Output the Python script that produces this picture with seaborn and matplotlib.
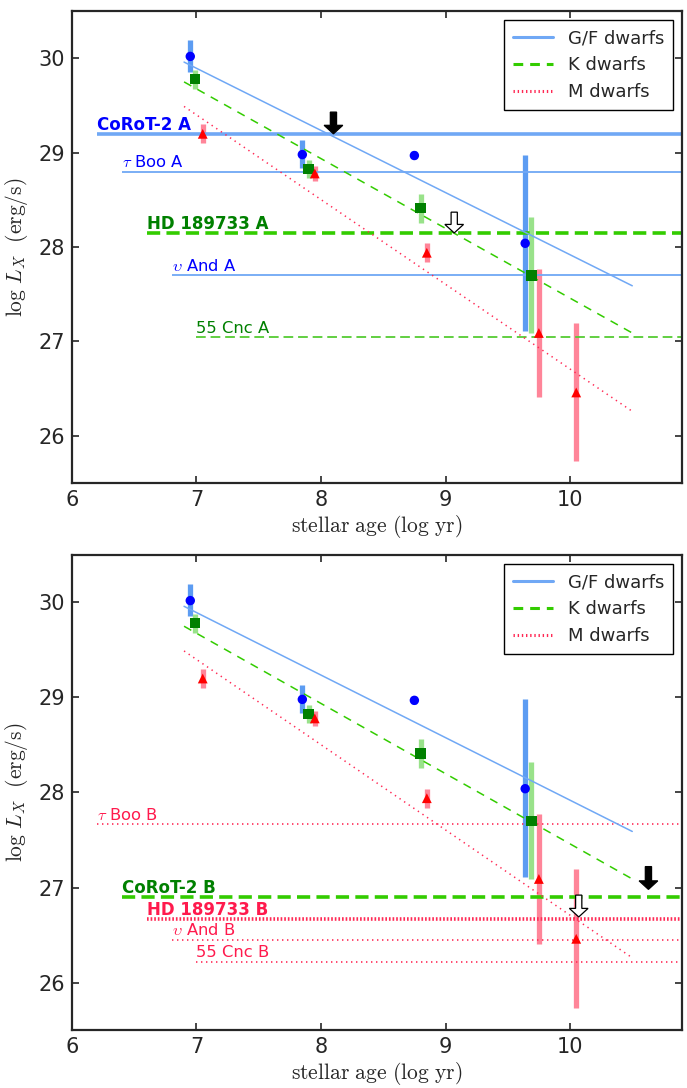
import numpy as np
import pandas as pd
import seaborn as sns
import matplotlib
matplotlib.use('Agg')
import matplotlib.pyplot as plt
from matplotlib.lines import Line2D

# ---- data ----
gf_age = [6.95, 7.85, 8.75, 9.64]
gf_lx = [30.02, 28.98, 28.97, 28.04]
gf_lo = [29.86, 28.84, 28.93, 27.11]
gf_hi = [30.19, 29.13, 29.02, 28.98]

k_age = [6.99, 7.90, 8.80, 9.69]
k_lx = [29.78, 28.83, 28.41, 27.70]
k_lo = [29.68, 28.73, 28.26, 27.09]
k_hi = [29.88, 28.92, 28.56, 28.32]

m_age = [7.05, 7.95, 8.85, 9.75, 10.05]
m_lx = [29.20, 28.78, 27.94, 27.09, 26.46]
m_lo = [29.10, 28.70, 27.84, 26.41, 25.73]
m_hi = [29.30, 28.86, 28.04, 27.77, 27.20]

# linear fits (end points)
fit_age = [6.9, 10.5]
gf_fit = [29.96, 27.59]
k_fit = [29.75, 27.09]
m_fit = [29.49, 26.26]

# host stars (top) and planets (bottom)
star_names = ['CoRoT-2 A', r'$\tau$ Boo A', 'HD 189733 A', r'$\upsilon$ And A', '55 Cnc A']
star_lx = [29.20, 28.80, 28.15, 27.70, 27.05]
planet_names = [r'$\tau$ Boo B', 'CoRoT-2 B', 'HD 189733 B', r'$\upsilon$ And B', '55 Cnc B']
planet_lx = [27.67, 26.90, 26.67, 26.45, 26.22]

# upper-limit arrows: (age, from, to)
star_arrows = [(8.10, 29.43, 29.20, 'k'), (9.07, 28.37, 28.15, 'w')]
planet_arrows = [(10.63, 27.22, 26.98, 'k'), (10.07, 26.92, 26.69, 'w')]

# ---- styles ----
GF_LINE = '#70a8f5'
GF_BAR = '#5c9cf2'
K_LINE = '#33cc00'
K_BAR = '#99e28a'
M_LINE = '#ff2a55'
M_BAR = '#ff8599'
BLUE_TXT = '#0000ff'
GREEN_TXT = '#008000'
RED_TXT = '#ff1a4d'

line_start = [6.2, 6.4, 6.6, 6.8, 7.0]
star_style = [
    dict(color=GF_LINE, lw=2.6, dashes=None, tcolor=BLUE_TXT, bold=True),
    dict(color=GF_LINE, lw=1.3, dashes=None, tcolor=BLUE_TXT, bold=False),
    dict(color=K_LINE, lw=2.6, dashes=(9.5, 4.5), tcolor=GREEN_TXT, bold=True),
    dict(color=GF_LINE, lw=1.3, dashes=None, tcolor=BLUE_TXT, bold=False),
    dict(color='#55cc33', lw=1.3, dashes=(7, 3.5), tcolor=GREEN_TXT, bold=False),
]
planet_style = [
    dict(color=M_LINE, lw=1.2, dashes=(1, 2.6), tcolor=RED_TXT, bold=False),
    dict(color=K_LINE, lw=2.6, dashes=(9.5, 4.5), tcolor=GREEN_TXT, bold=True),
    dict(color=M_LINE, lw=2.6, dashes=(1.2, 1.4), tcolor=RED_TXT, bold=True),
    dict(color=M_LINE, lw=1.2, dashes=(1, 2.6), tcolor=RED_TXT, bold=False),
    dict(color=M_LINE, lw=1.2, dashes=(1, 2.6), tcolor=RED_TXT, bold=False),
]

sns.set_style('ticks')
plt.rcParams['font.family'] = ['DejaVu Sans']
plt.rcParams['mathtext.fontset'] = 'cm'
plt.rcParams['lines.scale_dashes'] = False
plt.rcParams['axes.linewidth'] = 1.6

XMAX = 10.9


def draw_panel(ax, names, lx, styles, arrows):
    # error bars
    for age, lo, hi, c in [(gf_age, gf_lo, gf_hi, GF_BAR), (k_age, k_lo, k_hi, K_BAR),
                           (m_age, m_lo, m_hi, M_BAR)]:
        ax.vlines(age, lo, hi, colors=c, lw=3.8, zorder=2)

    # fit lines
    sns.lineplot(x=fit_age, y=gf_fit, ax=ax, color=GF_LINE, lw=1.1, zorder=3)
    l = sns.lineplot(x=fit_age, y=k_fit, ax=ax, color=K_LINE, lw=1.1, zorder=3).lines[-1]
    l.set_dashes((6, 5))
    l = sns.lineplot(x=fit_age, y=m_fit, ax=ax, color=M_LINE, lw=1.1, zorder=3).lines[-1]
    l.set_dashes((1, 3))

    # reference levels
    for name, y, x0, st in zip(names, lx, line_start, styles):
        ln, = ax.plot([x0, XMAX], [y, y], color=st['color'], lw=st['lw'], zorder=2.5,
                      solid_capstyle='butt')
        if st['dashes'] is not None:
            ln.set_dashes(st['dashes'])
        ax.text(x0, y + 0.045, name, color=st['tcolor'], va='baseline', ha='left',
                fontsize=12 if st['bold'] else 11.8,
                fontweight='bold' if st['bold'] else 'normal', zorder=5)

    # data points
    df = pd.DataFrame({'age': gf_age, 'lx': gf_lx})
    sns.scatterplot(data=df, x='age', y='lx', ax=ax, color='#0000ff', marker='o', s=46,
                    edgecolor='none', zorder=4)
    df = pd.DataFrame({'age': k_age, 'lx': k_lx})
    sns.scatterplot(data=df, x='age', y='lx', ax=ax, color='#008000', marker='s', s=54,
                    edgecolor='none', zorder=4)
    df = pd.DataFrame({'age': m_age, 'lx': m_lx})
    sns.scatterplot(data=df, x='age', y='lx', ax=ax, color='#ff0000', marker='^', s=50,
                    edgecolor='none', zorder=4)

    for x, y0, y1, fc in arrows:
        ax.arrow(x, y0, 0, y1 - y0, width=0.05, head_width=0.15, head_length=0.09,
                 length_includes_head=True, fc=fc, ec='k', lw=0.9, zorder=6)

    ax.set_xlim(6, XMAX)
    ax.set_ylim(25.5, 30.5)
    ax.set_xticks([6, 7, 8, 9, 10])
    ax.set_yticks([26, 27, 28, 29, 30])
    ax.tick_params(direction='in', top=True, right=True, length=5, width=1.2,
                   labelsize=15, pad=5)
    ax.set_xlabel(r'$\mathrm{stellar\ age\ (log\ yr)}$', fontsize=15.5, labelpad=2)
    ax.set_ylabel(r'$\log\,L_X\ \ \mathrm{(erg/s)}$', fontsize=15.5, labelpad=6)

    handles = [Line2D([], [], color=GF_LINE, lw=2.2),
               Line2D([], [], color=K_LINE, lw=2.2, dashes=(7, 5)),
               Line2D([], [], color=M_LINE, lw=2.2, dashes=(1, 2))]
    leg = ax.legend(handles, ['G/F dwarfs', 'K dwarfs', 'M dwarfs'], loc='upper right',
                    fontsize=13, fancybox=False, framealpha=1, edgecolor='k',
                    borderaxespad=0.5, handlelength=2.2, labelspacing=0.5,
                    borderpad=0.5)
    leg.get_frame().set_linewidth(1.0)
    leg.set_zorder(10)


fig = plt.figure(figsize=(6.87, 10.88), dpi=100)
ax1 = fig.add_axes([0.1048, 0.556, 0.888, 0.4338])
ax2 = fig.add_axes([0.1048, 0.0533, 0.888, 0.4366])

draw_panel(ax1, star_names, star_lx, star_style, star_arrows)
draw_panel(ax2, planet_names, planet_lx, planet_style, planet_arrows)

fig.savefig('out.png', dpi=100)
